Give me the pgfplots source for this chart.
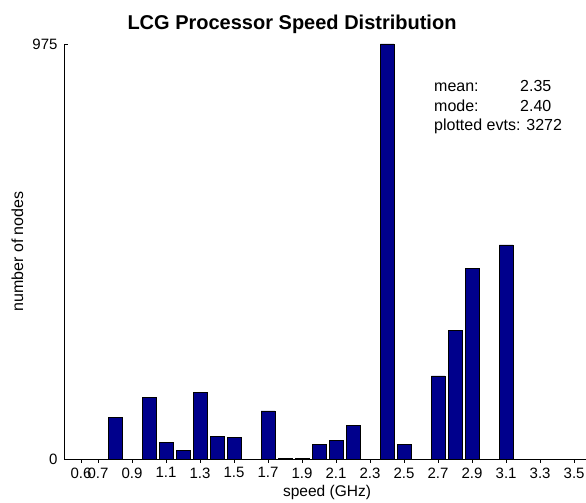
\documentclass[border=0pt]{standalone}
\usepackage{fontspec}
\setmainfont{Liberation Sans}
\usepackage{pgfplots}
\pgfplotsset{compat=1.18}
\definecolor{barblue}{RGB}{0,0,140}
\begin{document}
\begin{tikzpicture}[x=1pt,y=1pt]
\useasboundingbox (0,0) rectangle (586,503);
\begin{axis}[
  at={(64pt,44pt)}, anchor=south west,
  scale only axis, width=522pt, height=415pt,
  xmin=0.5, xmax=3.57, ymin=0, ymax=975,
  axis x line=bottom, axis y line=left,
  axis line style={-, black, line width=0.8pt},
  xtick={0.6,0.7,0.9,1.1,1.3,1.5,1.7,1.9,2.1,2.3,2.5,2.7,2.9,3.1,3.3,3.5},
  xticklabels={0.6,0.7,0.9,1.1,1.3,1.5,1.7,1.9,2.1,2.3,2.5,2.7,2.9,3.1,3.3,3.5},
  ytick={0,975},
  yticklabels={0,975},
  tick align=inside, major tick length=4pt,
  tick style={black, line width=0.6pt},
  ticklabel style={font=\fontsize{15}{18}\selectfont},
  yticklabel style={xshift=-3pt},
  xticklabel style={yshift=-1pt},
  /pgf/number format/assume math mode=true,
  ybar, bar width=0.08,
]
\addplot[fill=barblue, draw=black, line width=0.6pt] coordinates {
(0.8,98) (1.0,145) (1.1,39) (1.2,20) (1.3,156) (1.4,53) (1.5,50)
(1.7,113) (1.8,2) (1.9,2) (2.0,34) (2.1,44) (2.2,78) (2.4,975) (2.5,35)
(2.7,195) (2.8,303) (2.9,447) (3.1,503)
};
\end{axis}
\node[anchor=base, font=\bfseries\fontsize{20}{24}\selectfont] at (292,473) {LCG Processor Speed Distribution};
\node[rotate=90, font=\fontsize{16}{19}\selectfont] at (17.5,251.5) {number of nodes};
\node[anchor=base, font=\fontsize{15.5}{18}\selectfont] at (327,6.3) {speed (GHz)};
\begin{scope}[every node/.style={anchor=base west, inner sep=0pt, font=\fontsize{16}{19}\selectfont}]
\node at (434,411) {mean:};
\node at (520,411) {2.35};
\node at (434,391.5) {mode:};
\node at (520,391.5) {2.40};
\node at (434,372.3) {plotted evts: 3272};
\end{scope}
\end{tikzpicture}
\end{document}
